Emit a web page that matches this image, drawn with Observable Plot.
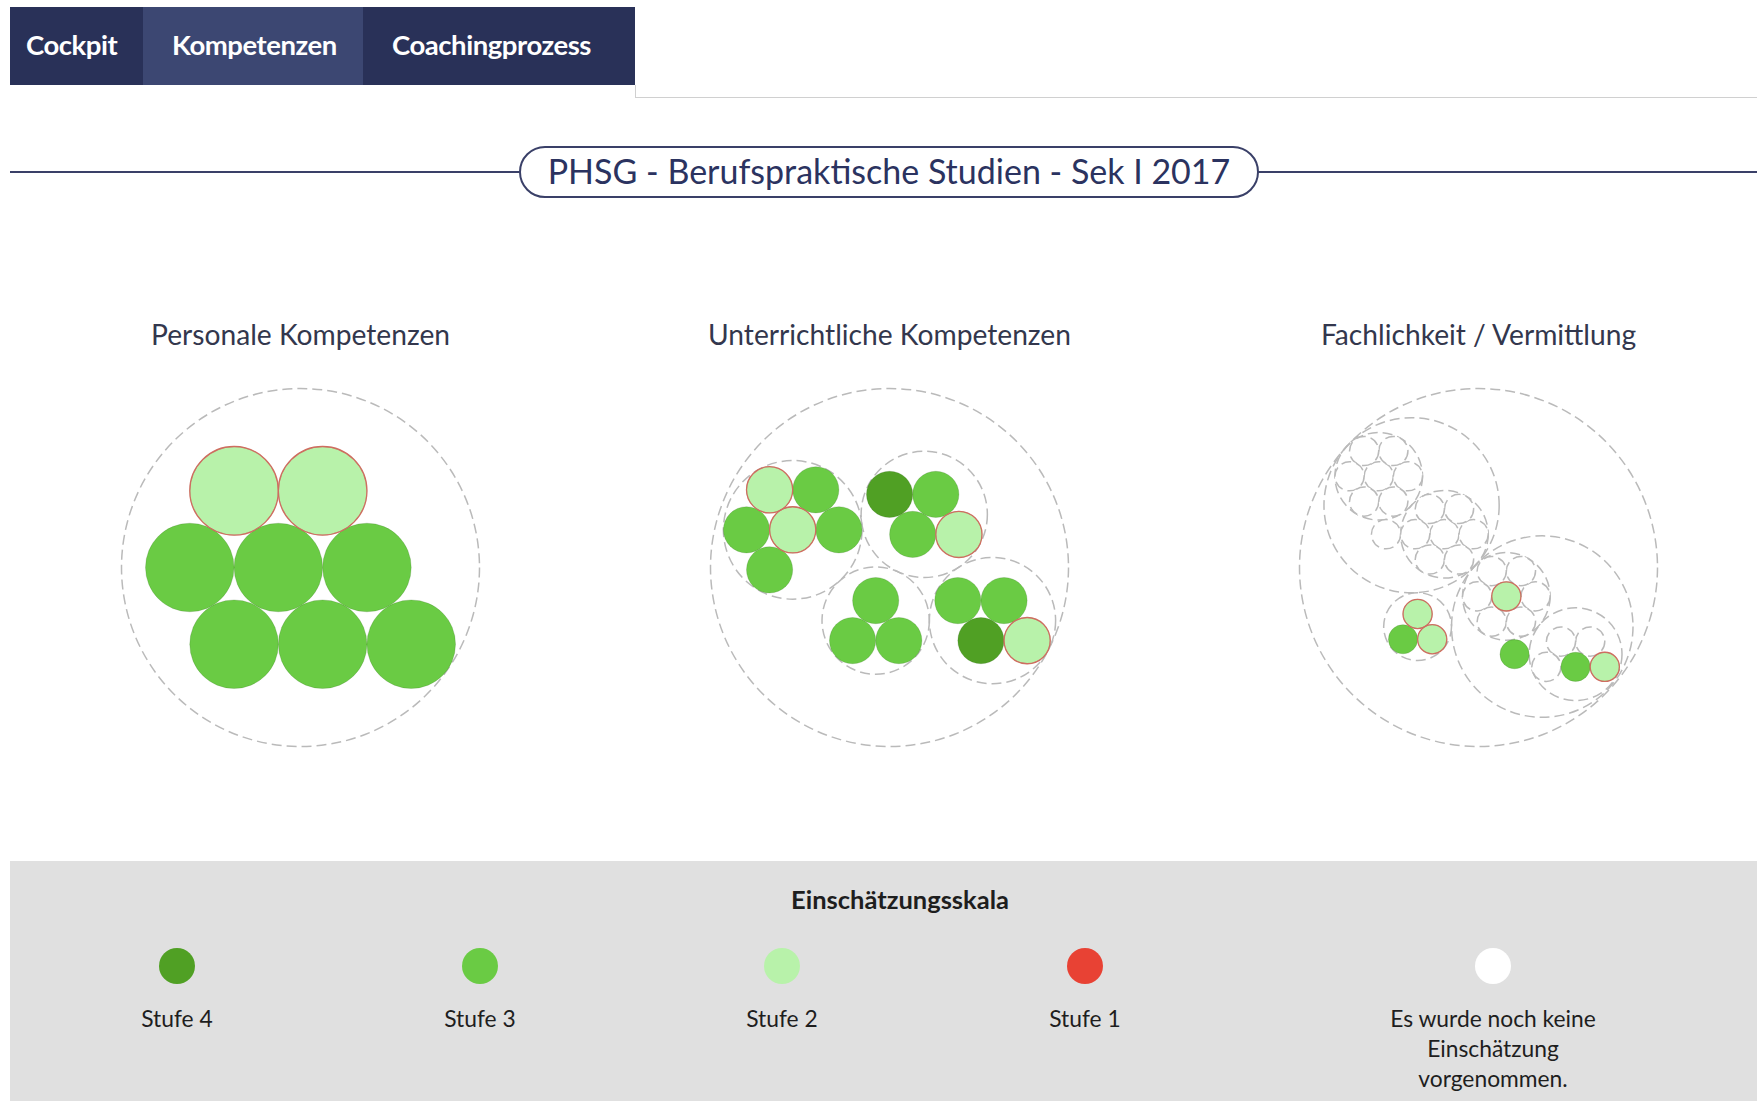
<!DOCTYPE html>
<html lang="de">
<head>
<meta charset="utf-8">
<title>PHSG - Berufspraktische Studien - Sek I 2017</title>
<script src="https://cdn.jsdelivr.net/npm/d3@7"></script>
<script src="https://cdn.jsdelivr.net/npm/@observablehq/plot@0.6"></script>
<style>
  html, body { margin: 0; padding: 0; background: #fff; }
  body { width: 1757px; height: 1101px; overflow: hidden; position: relative; font-family: Lato, "Open Sans", sans-serif; }
  .nav { position: absolute; left: 10px; top: 7px; height: 78px; display: flex; background: #293158; }
  .nav div { color: #fff; font-weight: 700; font-size: 27.5px; display: flex; align-items: center; justify-content: flex-start; letter-spacing: -0.45px; box-sizing: border-box; padding-bottom: 4px; }
  .nav .active { background: #3c4772; }
  .tabline { position: absolute; left: 635px; right: 0; top: 97px; height: 0; border-top: 1px solid #d0d0d0; }
  .tabline-v { position: absolute; left: 635px; top: 85px; height: 12px; width: 0; border-left: 1px solid #d0d0d0; }
  .hline { position: absolute; left: 10px; right: 0; top: 171px; height: 2px; background: #3a4068; }
  .pill { position: absolute; left: 519px; top: 146px; width: 740px; height: 52px; box-sizing: border-box; border: 2px solid #3a4068; border-radius: 26px; background: #fff; display: flex; align-items: center; justify-content: center; color: #2b3360; font-size: 34px; padding-bottom: 4px; }
  #chart { position: absolute; left: 0; top: 280px; }
  .legend { position: absolute; left: 10px; top: 861px; width: 1747px; height: 240px; background: #e0e0e0; }
  .legend h4 { position: absolute; left: 0; width: 1780px; top: 24px; margin: 0; text-align: center; font-size: 25.5px; font-weight: 700; color: #1e1e1e; line-height: 28px; }
  .item { position: absolute; top: 87px; width: 260px; margin-left: -130px; text-align: center; }
  .item .dot { width: 36px; height: 36px; border-radius: 50%; margin: 0 auto; }
  .item .lbl { margin-top: 19px; font-size: 22.8px; line-height: 30px; color: #1e1e1e; }
</style>
</head>
<body>
<div class="nav">
  <div style="width:133px;padding-left:16px">Cockpit</div>
  <div class="active" style="width:220px;padding-left:29px">Kompetenzen</div>
  <div style="width:272px;padding-left:29px">Coachingprozess</div>
</div>
<div class="tabline-v"></div>
<div class="tabline"></div>
<div class="hline"></div>
<div class="pill" id="heading"></div>
<div id="chart"></div>
<div class="legend" id="legend"></div>
<script>
// ---------------- data ----------------
const pageTitle = "PHSG - Berufspraktische Studien - Sek I 2017";
const chartTitles = ["Personale Kompetenzen", "Unterrichtliche Kompetenzen", "Fachlichkeit / Vermittlung"];
// Einschätzung je Indikator: 4 = Stufe 4 … 1 = Stufe 1, 0 = noch keine Einschätzung.
// Verschachtelte Listen = Kompetenzgruppen.
const personaleKompetenzen = [3, 3, 2, 2, 3, 3, 3, 3];
const unterrichtlicheKompetenzen = [
  [2, 3, 3, 2, 3, 3],
  [4, 2, 3, 3],
  [3, 2, 3, 4],
  [3, 3, 3]
];
const fachlichkeitVermittlung = [
  [0, [0, 0, 0, 0, 0, 0, 0], [0, 0, 0, 0, 0, 0, 0]],
  [3, 2, 2],
  [3, [3, 2, 0, 0, 0], [2, 0, 0, 0, 0, 0, 0]]
];
const scaleTitle = "Einschätzungsskala";
const levels = [4, 3, 2, 1, 0];
const levelLabels = ["Stufe 4", "Stufe 3", "Stufe 2", "Stufe 1", "Es wurde noch keine Einschätzung vorgenommen."];

// ---------------- styles ----------------
const levelColors = ["#50a024", "#6acb44", "#b8f2aa", "#e84234", "#ffffff"];
const legendCenters = [167, 470, 772, 1075, 1483];

// ---------------- circle packing (classic front-chain pack, values = indicator count) ----------------
function toTree(item) {
  return Array.isArray(item) ? {children: item.map(toTree)} : {rating: item};
}
function sumValues(node) {
  if (node.children) {
    node.value = d3.sum(node.children, sumValues);
    node.children.sort((a, b) => a.value - b.value);
  } else node.value = 1;
  return node.value;
}
function place(a, b, c) {
  let db = a.r + c.r;
  const dx = b.x - a.x, dy = b.y - a.y;
  if (db && (dx || dy)) {
    let da = b.r + c.r, dc = dx * dx + dy * dy;
    da *= da; db *= db;
    const x = 0.5 + (db - da) / (2 * dc);
    const y = Math.sqrt(Math.max(0, 2 * da * (db + dc) - (db -= dc) * db - da * da)) / (2 * dc);
    c.x = a.x + x * dx + y * dy;
    c.y = a.y + x * dy - y * dx;
  } else { c.x = a.x + db; c.y = a.y; }
}
function insert(a, b) { const c = a._next; a._next = b; b._prev = a; b._next = c; c._prev = b; }
function splice(a, b) { a._next = b; b._prev = a; }
function intersects(a, b) { const dx = b.x - a.x, dy = b.y - a.y, dr = a.r + b.r; return 0.999 * dr * dr > dx * dx + dy * dy; }
function packSiblings(node) {
  const nodes = node.children;
  if (!nodes || !nodes.length) return;
  let xMin = Infinity, xMax = -Infinity, yMin = Infinity, yMax = -Infinity;
  const bound = n => { xMin = Math.min(n.x - n.r, xMin); xMax = Math.max(n.x + n.r, xMax); yMin = Math.min(n.y - n.r, yMin); yMax = Math.max(n.y + n.r, yMax); };
  nodes.forEach(n => { n._next = n._prev = n; });
  const n = nodes.length;
  let a = nodes[0], b, c, j, k;
  a.x = -a.r; a.y = 0; bound(a);
  if (n > 1) {
    b = nodes[1]; b.x = b.r; b.y = 0; bound(b);
    if (n > 2) {
      c = nodes[2]; place(a, b, c); bound(c);
      insert(a, c); a._prev = c; insert(c, b); b = a._next;
      for (let i = 3; i < n; i++) {
        place(a, b, c = nodes[i]);
        let isect = 0, s1 = 1, s2 = 1;
        for (j = b._next; j !== b; j = j._next, s1++) if (intersects(j, c)) { isect = 1; break; }
        if (isect === 1) for (k = a._prev; k !== j._prev; k = k._prev, s2++) if (intersects(k, c)) break;
        if (isect) {
          if (s1 < s2 || (s1 === s2 && b.r < a.r)) splice(a, b = j); else splice(a = k, b);
          i--;
        } else { insert(a, c); b = c; bound(c); }
      }
    }
  }
  const cx = (xMin + xMax) / 2, cy = (yMin + yMax) / 2;
  let cr = 0;
  for (const m of nodes) { m.x -= cx; m.y -= cy; cr = Math.max(cr, m.r + Math.hypot(m.x, m.y)); }
  node.r = cr;
  nodes.forEach(m => { delete m._next; delete m._prev; });
}
function visitAfter(node, f) { if (node.children) node.children.forEach(c => visitAfter(c, f)); f(node); }
function transform(node, x, y, k) {
  node.x = x += k * node.x; node.y = y += k * node.y; node.r *= k;
  if (node.children) node.children.forEach(c => transform(c, x, y, k));
}
function pack(items, chart) {
  const root = toTree(items);
  sumValues(root);
  visitAfter(root, d => { d.r = Math.sqrt(d.value); });
  visitAfter(root, packSiblings);
  root.x = root.y = 0;
  transform(root, 0, 0, 1 / root.r);
  const out = [];
  (function walk(d) { out.push({chart, x: d.x, y: d.y, r: d.r, group: !!d.children, rating: d.rating}); if (d.children) d.children.forEach(walk); })(root);
  return out;
}
const nodes = [
  ...pack(personaleKompetenzen, chartTitles[0]),
  ...pack(unterrichtlicheKompetenzen, chartTitles[1]),
  ...pack(fachlichkeitVermittlung, chartTitles[2])
];
const groups = nodes.filter(d => d.group);
const leaves = nodes.filter(d => !d.group);

// ---------------- chart ----------------
const R = 179;       // pixel radius of each chart's outer circle
const cxLocal = 294.5, cyLocal = 287;
const dashed = {stroke: "#bababa", strokeWidth: 1.5, strokeDasharray: "10,5"};
const chart = Plot.plot({
  width: 1757,
  height: 490,
  margin: 0,
  fx: {domain: chartTitles, range: [5.5, 1772.5], padding: 0, round: false, axis: null},
  x: {domain: [-1, 1], range: [cxLocal - R, cxLocal + R], axis: null},
  y: {domain: [-1, 1], range: [cyLocal - R, cyLocal + R], axis: null},
  r: {type: "linear", domain: [0, 1], range: [0, R]},
  color: {type: "ordinal", domain: levels, range: levelColors},
  style: {fontFamily: "Lato, 'Open Sans', sans-serif", background: "transparent", overflow: "visible"},
  marks: [
    Plot.text(chartTitles, {fx: d => d, text: d => d, frameAnchor: "top", dy: 55, lineAnchor: "middle", fontSize: 28.2, fill: "#33374d"}),
    Plot.dot(groups, {fx: "chart", x: "x", y: "y", r: "r", fill: "none", ...dashed}),
    Plot.dot(leaves, {filter: d => d.rating === 0, fx: "chart", x: "x", y: "y", r: "r", fill: "rating", ...dashed}),
    Plot.dot(leaves, {filter: d => d.rating > 0, fx: "chart", x: "x", y: "y", r: "r", fill: "rating", stroke: "rgba(40,90,20,0.18)", strokeWidth: 1}),
    Plot.dot(leaves, {filter: d => d.rating === 2, fx: "chart", x: "x", y: "y", r: "r", fill: "none", stroke: "#cf6d60", strokeWidth: 1.3})
  ]
});
document.getElementById("chart").append(chart);
document.getElementById("heading").textContent = pageTitle;

// ---------------- legend ----------------
const legend = document.getElementById("legend");
const h = document.createElement("h4");
h.textContent = scaleTitle;
legend.append(h);
levels.forEach((lv, i) => {
  const it = document.createElement("div");
  it.className = "item";
  it.style.left = legendCenters[i] + "px";
  const dot = document.createElement("div");
  dot.className = "dot";
  dot.style.background = levelColors[i];
  const lbl = document.createElement("div");
  lbl.className = "lbl";
  lbl.textContent = levelLabels[i];
  if (i === 4) lbl.style.padding = "0 20px";
  it.append(dot, lbl);
  legend.append(it);
});
</script>
</body>
</html>
